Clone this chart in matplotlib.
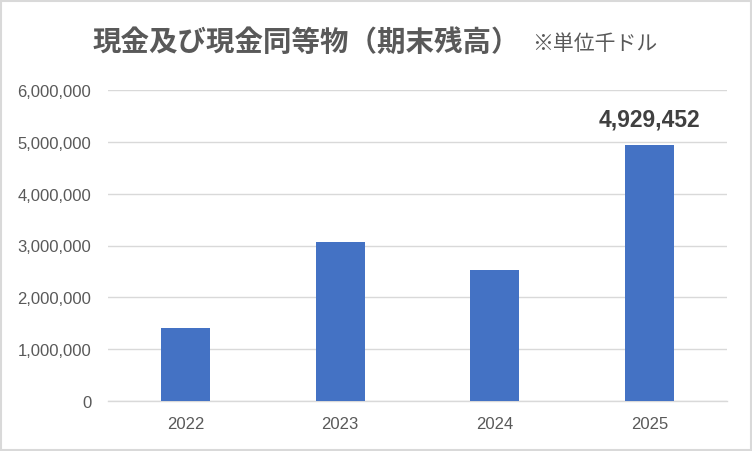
import matplotlib.pyplot as plt
from matplotlib.patches import Rectangle
from matplotlib.ticker import FuncFormatter

# Data (thousand USD)
years = ['2022', '2023', '2024', '2025']
cash = [1410000, 3070000, 2530000, 4929452]
yticks = [0, 1000000, 2000000, 3000000, 4000000, 5000000, 6000000]

title = '現金及び現金同等物（期末残高）'
note = '※単位千ドル'

text_color = '#595959'
grid_color = '#D9D9D9'
bar_color = '#4472C4'

plt.rcParams['font.family'] = ['Liberation Sans', 'Noto Sans CJK JP', 'DejaVu Sans']

W, H = 752, 452
fig = plt.figure(figsize=(W / 100, H / 100), dpi=100)
ax = fig.add_axes([108 / W, 1 - 402 / H, (727 - 108) / W, (402 - 91) / H])

x = range(len(years))
bars = ax.bar(x, cash, width=0.317, color=bar_color, zorder=3)

ax.set_xlim(-0.5, len(years) - 0.5)
ax.set_ylim(0, 6000000)
ax.set_yticks(yticks)
ax.yaxis.set_major_formatter(FuncFormatter(lambda v, p: f'{int(v):,}'))
ax.set_xticks(list(x))
ax.set_xticklabels(years)

ax.grid(axis='y', color=grid_color, linewidth=1.0, zorder=0)
for side in ['top', 'right', 'left']:
    ax.spines[side].set_visible(False)
ax.spines['bottom'].set_color(grid_color)
ax.spines['bottom'].set_linewidth(1.0)
ax.tick_params(axis='both', length=0, labelsize=12, labelcolor=text_color)
ax.tick_params(axis='y', pad=12)
ax.tick_params(axis='x', pad=11)

# Label only the latest year
ax.annotate(f'{cash[-1]:,}', (x[-1], cash[-1]), xytext=(0, 11),
            textcoords='offset points', ha='center', va='bottom',
            fontsize=16.5, fontweight='bold', color='#404040')

# Title and unit note
fig.text(93 / W, 1 - 43 / H, title, ha='left', va='center',
         fontsize=20.5, fontweight='bold', color=text_color,
         family=['Noto Sans CJK JP', 'DejaVu Sans'])
fig.text(532 / W, 1 - 44.5 / H, note, ha='left', va='center',
         fontsize=15, color=text_color,
         family=['Noto Sans CJK JP', 'DejaVu Sans'])

# Chart border
fig.patches.append(Rectangle((1.5 / W, 1.5 / H), (W - 3) / W, (H - 3) / H,
                             transform=fig.transFigure, fill=False,
                             edgecolor=grid_color, linewidth=1.5))

plt.savefig('out.png', dpi=100)
